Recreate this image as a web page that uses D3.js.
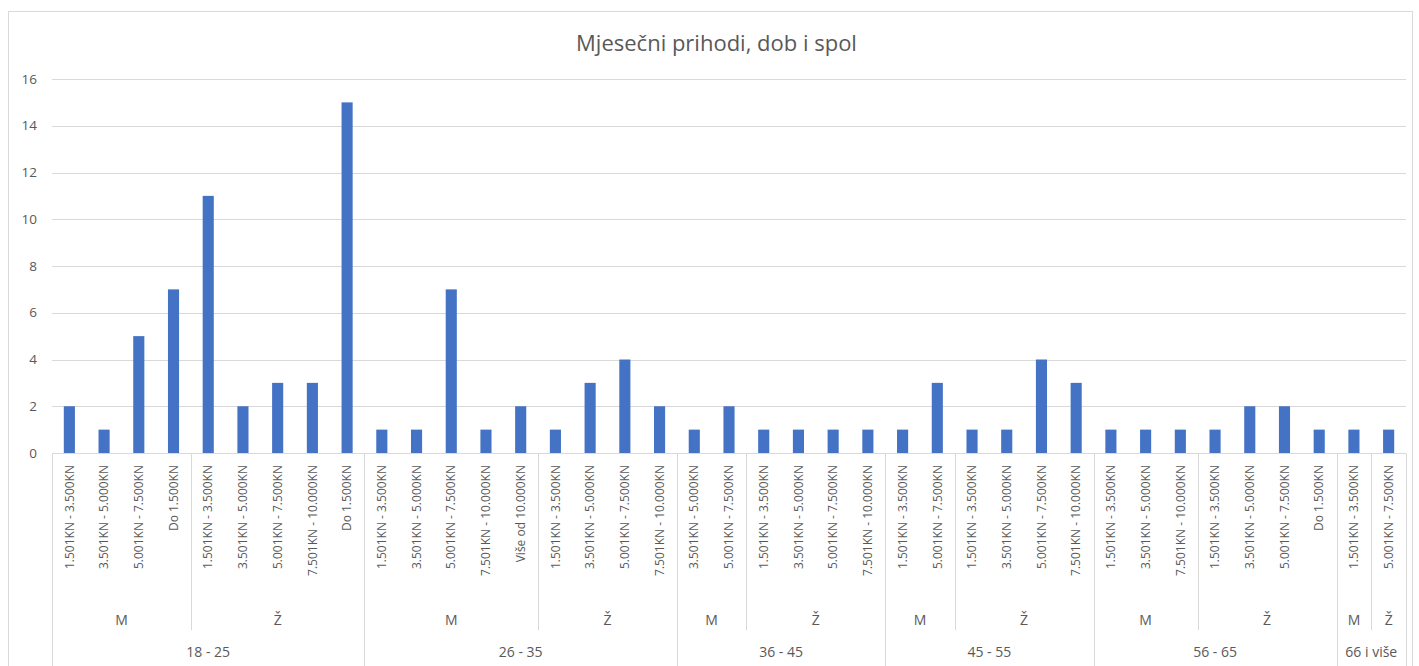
<!DOCTYPE html>
<html>
<head>
<meta charset="utf-8">
<script src="https://cdn.jsdelivr.net/npm/d3@7"></script>
<style>
  body { margin: 0; background: #fff; }
  text { font-family: "Open Sans", "Liberation Sans", sans-serif; fill: #595959; }
</style>
</head>
<body>
<div id="chart"></div>
<script>
// data, one entry per bar
var ages = ["18 - 25","18 - 25","18 - 25","18 - 25","18 - 25","18 - 25","18 - 25","18 - 25","18 - 25",
            "26 - 35","26 - 35","26 - 35","26 - 35","26 - 35","26 - 35","26 - 35","26 - 35","26 - 35",
            "36 - 45","36 - 45","36 - 45","36 - 45","36 - 45","36 - 45",
            "45 - 55","45 - 55","45 - 55","45 - 55","45 - 55","45 - 55",
            "56 - 65","56 - 65","56 - 65","56 - 65","56 - 65","56 - 65","56 - 65",
            "66 i više","66 i više"];
var genders = ["M","M","M","M","Ž","Ž","Ž","Ž","Ž",
               "M","M","M","M","M","Ž","Ž","Ž","Ž",
               "M","M","Ž","Ž","Ž","Ž",
               "M","M","Ž","Ž","Ž","Ž",
               "M","M","M","Ž","Ž","Ž","Ž",
               "M","Ž"];
var incomes = ["1.501KN - 3.500KN","3.501KN - 5.000KN","5.001KN - 7.500KN","Do 1.500KN",
               "1.501KN - 3.500KN","3.501KN - 5.000KN","5.001KN - 7.500KN","7.501KN - 10.000KN","Do 1.500KN",
               "1.501KN - 3.500KN","3.501KN - 5.000KN","5.001KN - 7.500KN","7.501KN - 10.000KN","Više od 10.000KN",
               "1.501KN - 3.500KN","3.501KN - 5.000KN","5.001KN - 7.500KN","7.501KN - 10.000KN",
               "3.501KN - 5.000KN","5.001KN - 7.500KN",
               "1.501KN - 3.500KN","3.501KN - 5.000KN","5.001KN - 7.500KN","7.501KN - 10.000KN",
               "1.501KN - 3.500KN","5.001KN - 7.500KN",
               "1.501KN - 3.500KN","3.501KN - 5.000KN","5.001KN - 7.500KN","7.501KN - 10.000KN",
               "1.501KN - 3.500KN","3.501KN - 5.000KN","7.501KN - 10.000KN",
               "1.501KN - 3.500KN","3.501KN - 5.000KN","5.001KN - 7.500KN","Do 1.500KN",
               "1.501KN - 3.500KN",
               "5.001KN - 7.500KN"];
var counts = [2,1,5,7, 11,2,3,3,15,
              1,1,7,1,2, 1,3,4,2,
              1,2, 1,1,1,1,
              1,3, 1,1,4,3,
              1,1,1, 1,2,2,1,
              1, 1];
var yTicks = [0,2,4,6,8,10,12,14,16];
var title = "Mjesečni prihodi, dob i spol";

var W = 1419, H = 666;
var margin = {left: 52, right: 13, top: 79, bottom: 213};
var grey = "#d9d9d9";

var svg = d3.select("#chart").append("svg")
    .attr("width", W)
    .attr("height", H);

// chart frame
svg.append("rect")
    .attr("x", 8.5).attr("y", 11.5)
    .attr("width", 1404).attr("height", 670)
    .attr("fill", "#fff")
    .attr("stroke", grey);

var idx = d3.range(counts.length);
var x = d3.scaleBand()
    .domain(idx)
    .range([margin.left, W - margin.right]);
var y = d3.scaleLinear()
    .domain([0, 16])
    .range([H - margin.bottom, margin.top]);

var barW = x.bandwidth() * 0.32;

// gridlines
svg.append("g")
    .selectAll("line")
    .data(yTicks.filter(function(d){ return d > 0; }))
    .enter().append("line")
    .attr("x1", margin.left).attr("x2", W - margin.right)
    .attr("y1", function(d){ return Math.round(y(d)) + 0.5; })
    .attr("y2", function(d){ return Math.round(y(d)) + 0.5; })
    .attr("stroke", grey);

// y tick labels
svg.append("g")
    .selectAll("text")
    .data(yTicks)
    .enter().append("text")
    .attr("x", 37)
    .attr("y", function(d){ return y(d); })
    .attr("dy", "0.35em")
    .attr("text-anchor", "end")
    .style("font-size", "13.5px")
    .text(function(d){ return d; });

// bars
svg.append("g")
    .selectAll("rect")
    .data(idx)
    .enter().append("rect")
    .attr("x", function(i){ return x(i) + (x.bandwidth() - barW) / 2; })
    .attr("y", function(i){ return y(counts[i]); })
    .attr("width", barW)
    .attr("height", function(i){ return y(0) - y(counts[i]); })
    .attr("fill", "#4472c4");

// x axis baseline
var y0 = Math.round(y(0)) + 0.5;
svg.append("line")
    .attr("x1", margin.left).attr("x2", W - margin.right)
    .attr("y1", y0).attr("y2", y0)
    .attr("stroke", grey);

// income labels (rotated)
svg.append("g")
    .selectAll("text")
    .data(idx)
    .enter().append("text")
    .attr("transform", function(i){
        return "translate(" + (x(i) + x.bandwidth() / 2) + "," + 465 + ") rotate(-90)";
    })
    .attr("dy", "0.35em")
    .attr("text-anchor", "end")
    .style("font-size", "12px")
    .text(function(i){ return incomes[i]; });

// group spans
function spans(keyFn) {
    var out = [];
    idx.forEach(function(i){
        var k = keyFn(i);
        if (out.length && out[out.length - 1].key === k) out[out.length - 1].end = i;
        else out.push({key: k, start: i, end: i});
    });
    return out;
}
var genderSpans = spans(function(i){ return ages[i] + "|" + genders[i]; });
var ageSpans = spans(function(i){ return ages[i]; });

function spanLeft(s){ return x(s.start); }
function spanRight(s){ return x(s.end) + x.bandwidth(); }

// gender separators (short) and labels
svg.append("g")
    .selectAll("line")
    .data(genderSpans)
    .enter().append("line")
    .attr("x1", function(s){ return Math.round(spanLeft(s)) + 0.5; })
    .attr("x2", function(s){ return Math.round(spanLeft(s)) + 0.5; })
    .attr("y1", y0).attr("y2", 630)
    .attr("stroke", grey);

svg.append("g")
    .selectAll("text")
    .data(genderSpans)
    .enter().append("text")
    .attr("x", function(s){ return (spanLeft(s) + spanRight(s)) / 2; })
    .attr("y", 620)
    .attr("dy", "0.35em")
    .attr("text-anchor", "middle")
    .style("font-size", "14px")
    .text(function(s){ return genders[s.start]; });

// age separators (full) and labels
var ageEdges = ageSpans.map(spanLeft).concat([spanRight(ageSpans[ageSpans.length - 1])]);
svg.append("g")
    .selectAll("line")
    .data(ageEdges)
    .enter().append("line")
    .attr("x1", function(d){ return Math.round(d) + 0.5; })
    .attr("x2", function(d){ return Math.round(d) + 0.5; })
    .attr("y1", y0).attr("y2", H)
    .attr("stroke", grey);

svg.append("g")
    .selectAll("text")
    .data(ageSpans)
    .enter().append("text")
    .attr("x", function(s){ return (spanLeft(s) + spanRight(s)) / 2; })
    .attr("y", 652)
    .attr("dy", "0.35em")
    .attr("text-anchor", "middle")
    .style("font-size", "14px")
    .text(function(s){ return s.key; });

// title
svg.append("text")
    .attr("x", W / 2 + 7)
    .attr("y", 43)
    .attr("dy", "0.35em")
    .attr("text-anchor", "middle")
    .style("font-size", "22px")
    .text(title);
</script>
</body>
</html>
